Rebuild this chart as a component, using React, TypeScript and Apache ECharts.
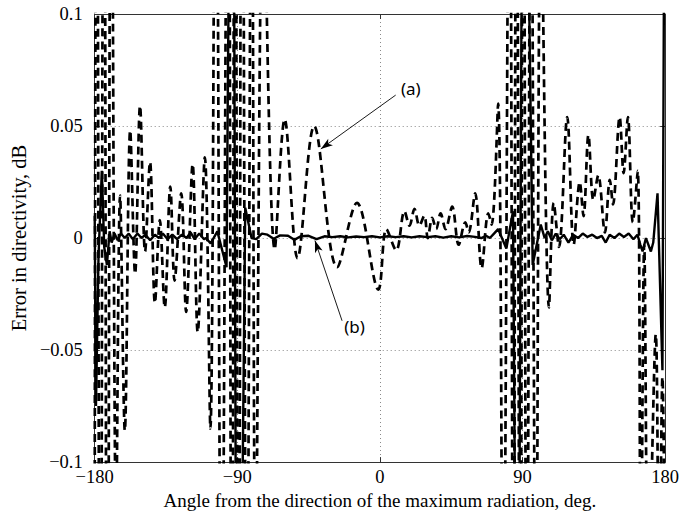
import React, { useEffect, useRef } from 'react';
import * as echarts from 'echarts';

const xTicks = [-180, -90, 0, 90, 180];
const yTicks = [-0.1, -0.05, 0, 0.05, 0.1];
const xTitle = 'Angle from the direction of the maximum radiation, deg.';
const yTitle = 'Error in directivity, dB';

// (a) dashed curve: [angle deg, error dB]
const curveA: number[][] = [
  [-180, -0.12], [-178.8, 0.3], [-176.5, -0.3], [-174.2, 0.3], [-172, -0.3],
  [-169.6, 0.25], [-166.5, -0.13], [-164, 0.019], [-161, -0.086], [-157.6, 0.048],
  [-154.5, -0.016], [-151.4, 0.059], [-148.2, -0.006], [-145.1, 0.034], [-142, -0.029],
  [-138.9, 0.008], [-135.8, -0.031], [-132.3, 0.023], [-129.6, -0.019], [-125.4, 0.02],
  [-122.3, -0.033], [-118.2, 0.033], [-115, -0.042], [-110.5, 0.036], [-107, -0.085],
  [-103.6, 0.25], [-100, -0.22], [-95.8, 0.28], [-93.5, -0.28], [-91.5, 0.3],
  [-89.2, -0.3], [-87.1, 0.3], [-84, -0.22], [-80.9, 0.22], [-78.5, -0.16],
  [-73.6, 0.16], [-66.4, -0.005], [-60.1, 0.053], [-52, -0.009], [-41.5, 0.05],
  [-27, -0.013], [-14.5, 0.0157], [-1, -0.023], [4.1, 0.004], [10.3, -0.0055],
  [15.5, 0.012], [18.7, 0.0055], [21.8, 0.013], [24.9, 0.0055], [28, 0.01],
  [30.2, 0.0], [33, 0.009], [35.5, 0.004], [38.3, 0.011], [41.4, 0.004],
  [45.6, 0.014], [49.7, -0.003], [53.9, 0.007], [56, 0.0025], [60.1, 0.02],
  [64.2, -0.0135], [68.4, 0.011], [70.5, 0.006], [74.6, 0.06], [77.7, -0.2],
  [81.8, 0.22], [84.2, -0.22], [86.2, 0.25], [88.5, -0.25], [90.5, 0.3],
  [92.7, -0.25], [95.3, 0.22], [98.5, -0.2], [101.6, 0.16], [106.7, -0.031],
  [109.7, 0.0157], [113, -0.004], [118.2, 0.054], [122.3, -0.003], [126.1, 0.025],
  [128.5, 0.0098], [131.6, 0.046], [134.7, 0.017], [137.8, 0.028], [142, 0.0025],
  [145.1, 0.026], [147.1, 0.015], [151.3, 0.054], [153.8, 0.029], [156.5, 0.054],
  [159.6, 0.007], [162.7, 0.03], [164.6, -0.16], [166.8, -0.003], [169.4, -0.16],
  [174.1, -0.043], [176.2, -0.16], [178.3, -0.062], [180, -0.16],
];

// (b) solid curve: [angle deg, error dB]
const curveB: number[][] = [
  [-180, 0.01], [-179.2, -0.075], [-177.6, -0.008], [-175.5, 0.03], [-174, -0.004],
  [-172.3, -0.012], [-170.6, 0.003], [-169.3, -0.002], [-167.5, 0.002], [-165.5, -0.001],
  [-163.5, 0.002], [-161, 0.0], [-158.5, 0.002], [-156, -0.0005], [-153, 0.002],
  [-150.5, 0.0], [-148, 0.0015], [-145, -0.001], [-142, 0.0015], [-139.5, 0.0],
  [-137, 0.002], [-134, -0.0005], [-131, 0.0015], [-128, -0.0005], [-125, 0.0015],
  [-122, 0.0], [-119.5, 0.0025], [-117, -0.0005], [-114, 0.002], [-111, -0.0005],
  [-109.9, 0.0], [-106.8, -0.0024], [-102.6, 0.003], [-96.8, -0.013], [-93, 0.35],
  [-90, -0.35], [-85, 0.0135], [-81, 0.0], [-78, -0.0005], [-74.5, 0.002],
  [-71, 0.0015], [-67, -0.0003], [-63, 0.0012], [-58, 0.001], [-54, -0.0008],
  [-50, 0.0008], [-45, 0.001], [-40, -0.0005], [-35, 0.0008], [-30, 0.0004],
  [-25, 0.0008], [-20, 0.0003], [-15, 0.0007], [-10, 0.0004], [-5, 0.0008],
  [0, 0.0003], [5, 0.0008], [10, 0.0004], [15, 0.0008], [20, 0.0003],
  [25, 0.0008], [30, 0.0004], [35, 0.0008], [40, 0.0002], [45, 0.0008],
  [50, 0.0003], [55, 0.0009], [60, 0.0005], [64, 0.0], [67, 0.001],
  [69.4, 0.0], [72, 0.002], [74.6, 0.004], [79.8, -0.0047], [84, 0.012],
  [87, -0.3], [90.5, 0.3], [96.4, -0.012], [101.5, 0.006], [104, 0.0],
  [106, 0.003], [108.5, -0.001], [111, 0.002], [113.5, -0.0005], [116, 0.0015],
  [119, -0.002], [122, 0.0015], [125, 0.0], [128, 0.002], [131, 0.0005],
  [134, 0.0015], [137, 0.0], [140, 0.001], [142.5, -0.002], [145, 0.0015],
  [148, 0.0], [151, 0.002], [154, 0.0005], [157, 0.002], [160, -0.0005],
  [162.5, 0.0015], [164.4, -0.003], [165.8, -0.006], [167.9, 0.0], [171, -0.006],
  [172.5, -0.002], [175.2, 0.02], [178.3, -0.059], [180, 0.25],
];

// annotation anchors in data coordinates
const arrowA = [[9.95, 0.0638], [-37.3, 0.0398]];
const arrowB = [[-23.9, -0.0369], [-41.0, -0.0011]];
const textA = { label: '(a)', at: [19.5, 0.0668] };
const textB = { label: '(b)', at: [-16.0, -0.0396] };

const fmt = (v: number) => {
  const r = Math.round(v * 1000) / 1000;
  const s = String(Math.abs(r));
  return r < 0 ? '\u2212' + s : s;
};

export default function App() {
  const ref = useRef<HTMLDivElement>(null);
  useEffect(() => {
    if (!ref.current) return;
    const chart = echarts.init(ref.current, null, { renderer: 'svg' });
    const serif = 'Liberation Serif';
    const frame = '#333';
    const tickStyle = { show: true, inside: true, length: 5, lineStyle: { color: frame, width: 1 } };
    const lineAxis = { show: true, onZero: false, lineStyle: { color: frame, width: 1 } };
    const grid = { color: '#8a8a8a', type: [1, 3], width: 1 };
    const xStep = xTicks[1] - xTicks[0];
    const yStep = 0.05;
    chart.setOption({
      animation: false,
      backgroundColor: '#fff',
      grid: { left: 87, top: 14, width: 579, height: 457 },
      xAxis: [
        {
          type: 'value', min: xTicks[0], max: xTicks[xTicks.length - 1], interval: xStep,
          position: 'bottom', axisLine: lineAxis, axisTick: tickStyle,
          axisLabel: { color: '#000', fontFamily: serif, fontSize: 18.5, margin: 5, formatter: fmt },
          splitLine: { show: true, lineStyle: grid },
          name: xTitle, nameLocation: 'middle', nameGap: 26,
          nameTextStyle: { color: '#000', fontFamily: serif, fontSize: 19 },
        },
        {
          type: 'value', min: xTicks[0], max: xTicks[xTicks.length - 1], interval: xStep,
          position: 'top', axisLine: lineAxis, axisTick: tickStyle,
          axisLabel: { show: false }, splitLine: { show: false },
        },
      ],
      yAxis: [
        {
          type: 'value', min: yTicks[0], max: yTicks[yTicks.length - 1], interval: yStep,
          position: 'left', axisLine: lineAxis, axisTick: tickStyle,
          axisLabel: { color: '#000', fontFamily: serif, fontSize: 18.5, margin: 12, formatter: fmt },
          splitLine: { show: true, lineStyle: grid },
          name: yTitle, nameLocation: 'middle', nameGap: 59,
          nameTextStyle: { color: '#000', fontFamily: serif, fontSize: 20.5 },
        },
        {
          type: 'value', min: yTicks[0], max: yTicks[yTicks.length - 1], interval: yStep,
          position: 'right', axisLine: lineAxis, axisTick: tickStyle,
          axisLabel: { show: false }, splitLine: { show: false },
        },
      ],
      series: [
        {
          type: 'line', name: '(a)', data: curveA, xAxisIndex: 0, yAxisIndex: 0,
          showSymbol: false, symbol: 'none', smooth: 0.35, silent: true, z: 2,
          lineStyle: { color: '#000', width: 2.7, type: [8, 5] },
          markLine: {
            silent: true, symbol: ['none', 'arrow'], symbolSize: [6, 12],
            label: { show: false },
            lineStyle: { color: '#000', width: 0.9, type: 'solid' },
            data: [
              [{ coord: arrowA[0] }, { coord: arrowA[1] }],
              [{ coord: arrowB[0] }, { coord: arrowB[1] }],
            ],
          },
          markPoint: {
            silent: true, symbol: 'rect', symbolSize: 1,
            itemStyle: { color: 'rgba(0,0,0,0)' },
            label: { show: true, position: 'inside', color: '#000', fontFamily: 'Noto Sans', fontSize: 17 },
            data: [
              { coord: textA.at, value: textA.label, label: { formatter: textA.label } },
              { coord: textB.at, value: textB.label, label: { formatter: textB.label } },
            ],
          },
        },
        {
          type: 'line', name: '(b)', data: curveB, xAxisIndex: 0, yAxisIndex: 0,
          showSymbol: false, symbol: 'none', silent: true, z: 3,
          lineStyle: { color: '#000', width: 2.4, type: 'solid' },
        },
      ],
    });
    return () => chart.dispose();
  }, []);
  return <div ref={ref} style={{ position: 'absolute', left: 0, top: 0, width: 682, height: 515 }} />;
}
